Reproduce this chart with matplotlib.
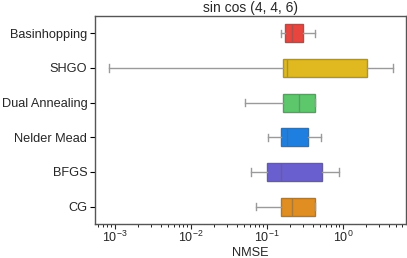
import matplotlib.pyplot as plt
import matplotlib.colors as mcolors

# valores (escala log)
metodos = ["Basinhopping", "SHGO", "Dual Annealing", "Nelder Mead", "BFGS", "CG"]
whis_baixo = [0.153, 0.00083, 0.052, 0.102, 0.062, 0.071]
q1 = [0.174, 0.161, 0.161, 0.153, 0.101, 0.153]
mediana = [0.214, 0.185, 0.264, 0.185, 0.153, 0.216]
q3 = [0.30, 2.09, 0.436, 0.35, 0.53, 0.436]
whis_alto = [0.436, 4.5, 0.436, 0.51, 0.89, 0.436]
cores = ["#e8453f", "#dfb91f", "#5dc86b", "#1f7fe0", "#6a5fcf", "#e08e22"]

plt.rcParams["font.family"] = ["Liberation Sans", "DejaVu Sans"]
plt.rcParams["mathtext.fontset"] = "cm"


def escurecer(cor, f=0.6):
    r, g, b = mcolors.to_rgb(cor)
    cinza = 0.35
    return (r * f + cinza * (1 - f), g * f + cinza * (1 - f), b * f + cinza * (1 - f))


fig = plt.figure(figsize=(4.07, 2.58), dpi=100)
ax = fig.add_axes([95 / 407, 34 / 258, 311 / 407, 208 / 258])

stats = []
for i in range(len(metodos)):
    stats.append({
        "whislo": whis_baixo[i],
        "q1": q1[i],
        "med": mediana[i],
        "q3": q3[i],
        "whishi": whis_alto[i],
        "fliers": [],
    })

posicoes = list(range(len(metodos)))
bp = ax.bxp(stats, positions=posicoes, vert=False, widths=0.52, patch_artist=True,
            showfliers=False, capwidths=0.22)

for i, caixa in enumerate(bp["boxes"]):
    caixa.set_facecolor(cores[i])
    caixa.set_edgecolor(escurecer(cores[i]))
    caixa.set_linewidth(1.0)
    bp["medians"][i].set_color(escurecer(cores[i]))
    bp["medians"][i].set_linewidth(1.0)
for linha in bp["whiskers"] + bp["caps"]:
    linha.set_color("#9a9a9a")
    linha.set_linewidth(1.0)

ax.set_xscale("log")
ax.set_xlim(10 ** -3.26, 10 ** 0.83)
ax.set_ylim(len(metodos) - 0.5, -0.5)
ax.set_yticks(posicoes)
ax.set_yticklabels(metodos, fontsize=9.2, color="#262626")
ax.tick_params(axis="y", pad=2, length=3.5)
ax.tick_params(axis="x", which="major", labelsize=9, colors="#262626", pad=0.5, length=3.5)
ax.tick_params(axis="x", which="minor", length=2)
ax.set_xlabel("NMSE", fontsize=9.2, color="#262626", labelpad=1.5)
ax.set_title("sin cos (4, 4, 6)", fontsize=10, color="#262626", pad=3)

for s in ax.spines.values():
    s.set_color("#555555")
    s.set_linewidth(1.0)

fig.savefig("out.png", dpi=100)
